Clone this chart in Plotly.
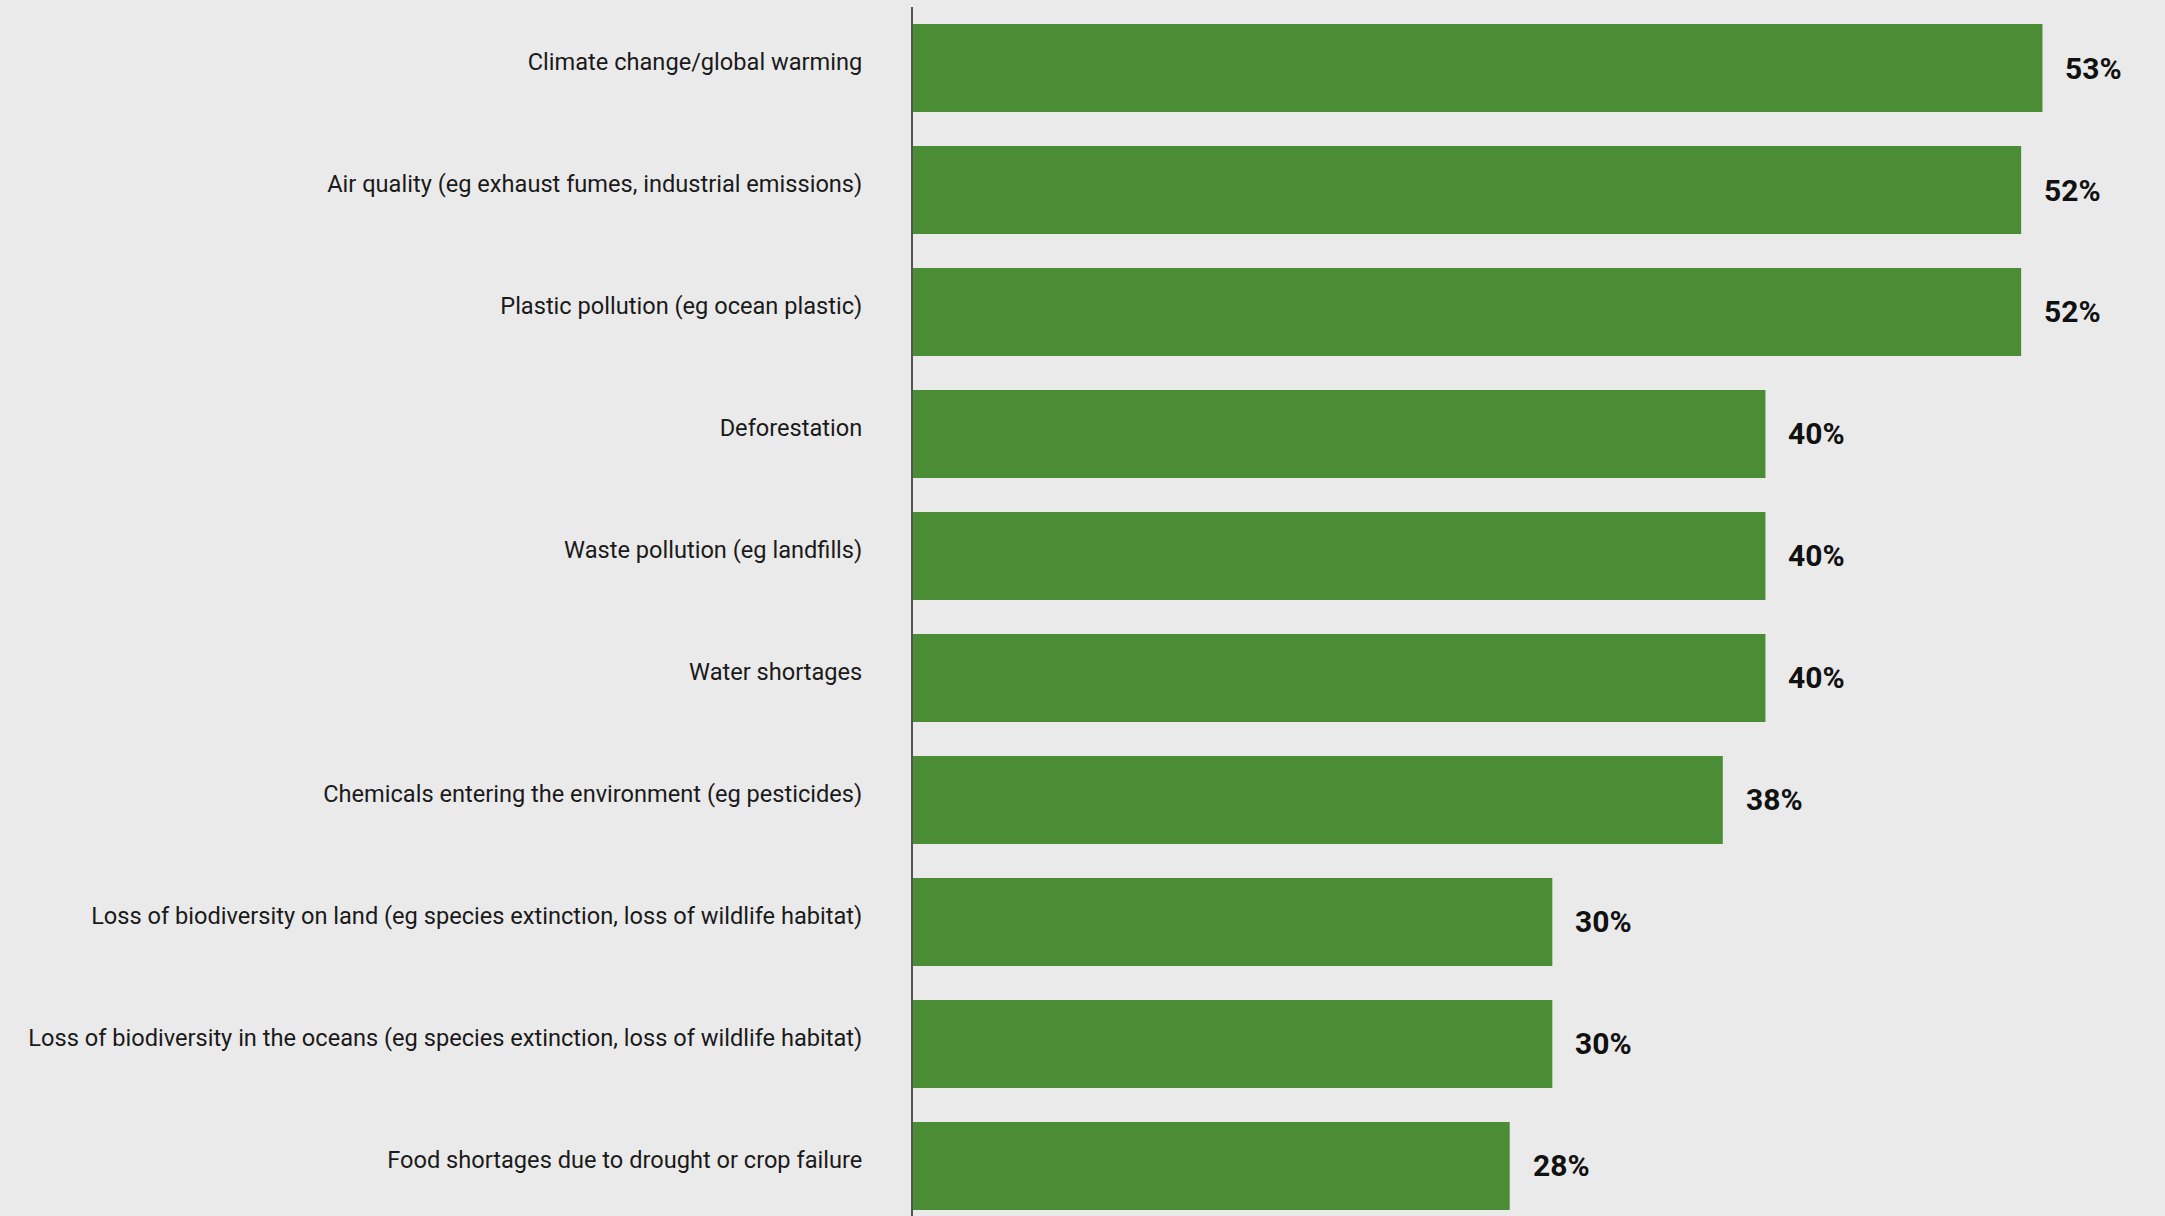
import plotly.graph_objects as go

categories = [
    "Climate change/global warming",
    "Air quality (eg exhaust fumes, industrial emissions)",
    "Plastic pollution (eg ocean plastic)",
    "Deforestation",
    "Waste pollution (eg landfills)",
    "Water shortages",
    "Chemicals entering the environment (eg pesticides)",
    "Loss of biodiversity on land (eg species extinction, loss of wildlife habitat)",
    "Loss of biodiversity in the oceans (eg species extinction, loss of wildlife habitat)",
    "Food shortages due to drought or crop failure",
]
values = [53, 52, 52, 40, 40, 40, 38, 30, 30, 28]
value_labels = [f"{v}%" for v in values]

BG = "#EAEAEA"
GREEN = "#4A8D35"

fig = go.Figure()
fig.add_trace(go.Bar(
    x=values, y=categories, orientation="h",
    marker=dict(color=GREEN, line=dict(width=0)),
    hoverinfo="skip",
))

for c, v, t in zip(categories, values, value_labels):
    fig.add_annotation(
        x=v, y=c, text=t, showarrow=False, xanchor="left", yanchor="middle",
        xshift=21, font=dict(family="Roboto", size=30, color="#111111", weight="bold"),
    )

fig.update_layout(
    width=2165, height=1216,
    paper_bgcolor=BG, plot_bgcolor=BG,
    margin=dict(l=913, r=0, t=7, b=0),
    bargap=0.28,
    showlegend=False,
    xaxis=dict(range=[0, 58.75], showgrid=False, zeroline=False, showticklabels=False,
               showline=False, fixedrange=True),
    yaxis=dict(type="category", categoryorder="array", categoryarray=categories,
               range=[9.41, -0.5], showgrid=False, zeroline=False,
               showline=True, linecolor="#555555", linewidth=2,
               ticks="outside", ticklen=44, tickcolor="rgba(0,0,0,0)",
               ticklabelshift=6,
               tickfont=dict(family="Roboto", size=23.6, color="#1a1a1a"),
               fixedrange=True),
)

fig.write_html("out.html", config={"displayModeBar": False},
               post_script="document.body.style.margin='0';document.body.style.overflow='hidden';")
